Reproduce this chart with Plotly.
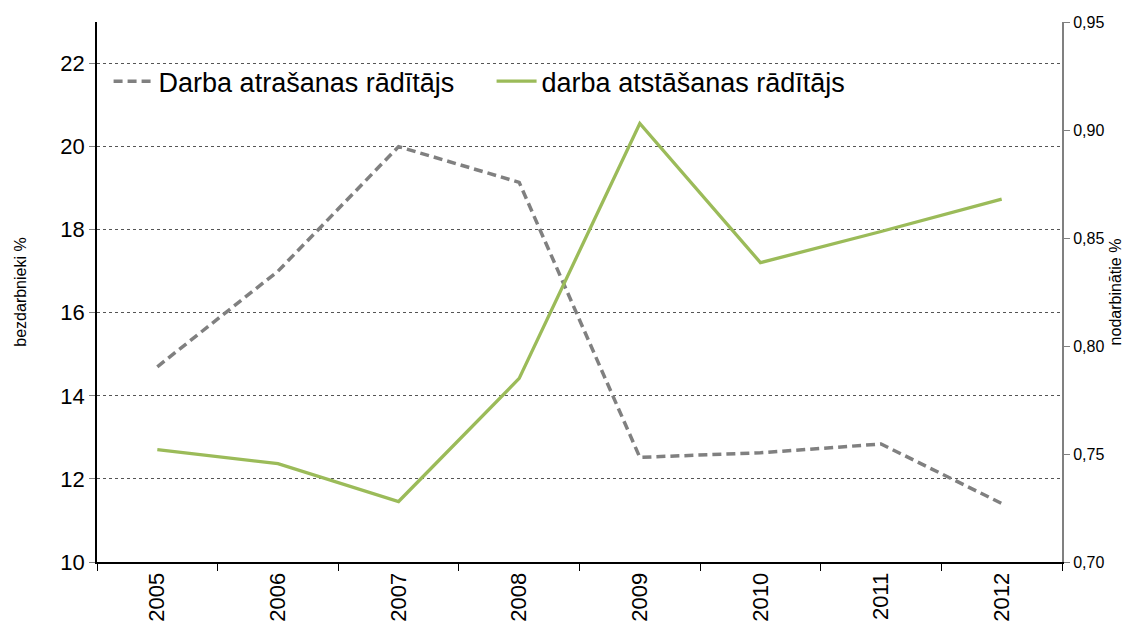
import plotly.graph_objects as go

years = ["2005", "2006", "2007", "2008", "2009", "2010", "2011", "2012"]
atrasanas = [14.7, 17.0, 20.0, 19.14, 12.52, 12.63, 12.84, 11.41]
atstasanas = [0.752, 0.7455, 0.728, 0.785, 0.903, 0.8386, 0.853, 0.868]

left_ticks = [10, 12, 14, 16, 18, 20, 22]
right_ticks = [0.70, 0.75, 0.80, 0.85, 0.90, 0.95]

font = "Liberation Sans, Arial, sans-serif"

fig = go.Figure()

fig.add_trace(
    go.Scatter(
        x=years,
        y=atrasanas,
        mode="lines",
        name="Darba atrašanas rādītājs",
        line=dict(color="#808080", width=3.5, dash="9px,5px"),
    )
)
fig.add_trace(
    go.Scatter(
        x=years,
        y=atstasanas,
        mode="lines",
        name="darba atstāšanas rādītājs",
        line=dict(color="#9BBB59", width=3.3),
        yaxis="y2",
    )
)

# page has an 8px body margin: figure is sized to fit the window
fig.update_layout(
    width=1126,
    height=620,
    margin=dict(l=89, r=72, t=14, b=66, autoexpand=False),
    paper_bgcolor="white",
    plot_bgcolor="white",
    separators=", ",
    font=dict(family=font, color="black"),
    showlegend=True,
    legend=dict(
        orientation="h",
        x=0.012,
        y=0.935,
        xanchor="left",
        yanchor="top",
        font=dict(size=27, color="black"),
        bgcolor="rgba(0,0,0,0)",
        entrywidth=328,
        itemwidth=40,
    ),
    xaxis=dict(
        type="category",
        tickangle=-90,
        tickfont=dict(size=22),
        showline=True,
        linecolor="black",
        linewidth=2,
        ticks="outside",
        tickson="boundaries",
        ticklen=7,
        tickcolor="black",
        showgrid=False,
        range=[-0.5, 7.5],
    ),
    yaxis=dict(
        range=[10, 23],
        tickvals=left_ticks,
        tickfont=dict(size=22),
        showline=True,
        linecolor="black",
        linewidth=1.5,
        ticks="outside",
        ticklen=6,
        tickcolor="#808080",
        showgrid=True,
        gridcolor="#555555",
        griddash="dot",
        gridwidth=1,
        zeroline=False,
        title=dict(text="bezdarbnieki %", font=dict(size=16), standoff=30),
    ),
    yaxis2=dict(
        range=[0.70, 0.95],
        tickvals=right_ticks,
        tickformat=".2f",
        tickfont=dict(size=16),
        overlaying="y",
        side="right",
        showline=True,
        linecolor="#808080",
        linewidth=2,
        ticks="outside",
        ticklen=6,
        tickcolor="#808080",
        showgrid=False,
        zeroline=False,
        title=dict(text="nodarbinātie %", font=dict(size=16), standoff=6),
    ),
)

fig.write_html("out.html")
